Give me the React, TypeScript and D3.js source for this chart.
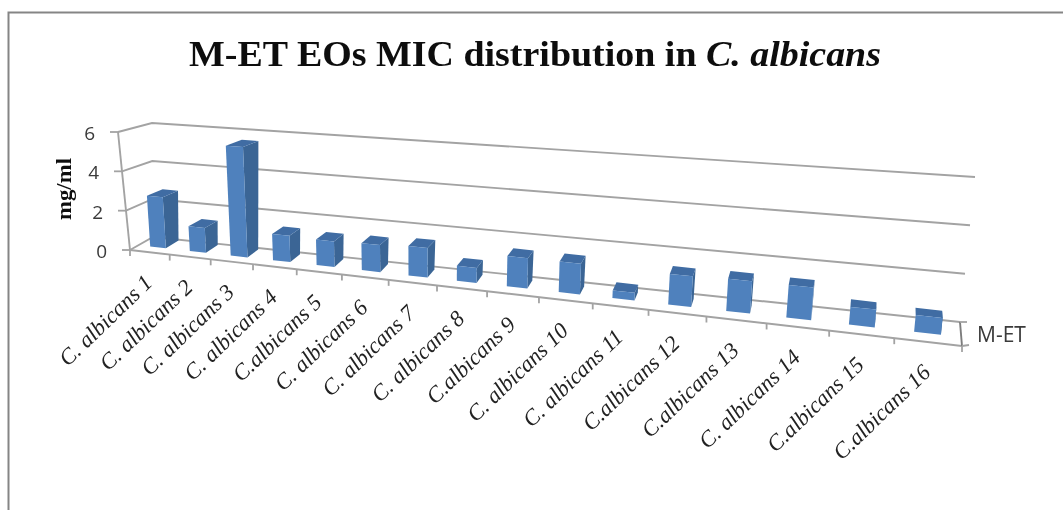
import React from "react";
import * as d3 from "d3";

const categories = ["C. albicans 1","C. albicans 2","C. albicans 3","C. albicans 4","C.albicans 5","C. albicans 6","C. albicans 7","C. albicans 8","C.albicans 9","C. albicans 10","C. albicans 11","C.albicans 12","C.albicans 13","C. albicans 14","C.albicans 15","C.albicans 16"];
const values = [2.6,1.25,5.5,1.3,1.25,1.3,1.4,0.7,1.4,1.4,0.35,1.35,1.4,1.4,0.75,0.7];
const yTicks = [0,2,4,6];
const seriesName = "M-ET";

type P = [number, number];
const lerp = (a: P, b: P, u: number): P => [a[0] + (b[0] - a[0]) * u, a[1] + (b[1] - a[1]) * u];
const FL0: P = [130, 250], FR0: P = [962, 346], BL0: P = [153, 237], BR0: P = [960, 322];
const FL6: P = [118, 132], FR6: P = [977, 200], BL6: P = [152, 123], BR6: P = [975, 177];
const R = 1.33;
const tScale = d3.scaleLinear().domain([0, categories.length]).range([0, 1]);
const vScale = d3.scaleLinear().domain([0, 6]).range([0, 1]);
const depthScale = d3.scaleLinear().domain([0, 1]).range([0.58, 0.3]);
const persp = (t: number) => t / (t + R * (1 - t));
function project(i: number, v: number, d: number): P {
  const s = persp(tScale(i));
  const bottom = lerp(lerp(FL0, FR0, s), lerp(BL0, BR0, s), d);
  const top = lerp(lerp(FL6, FR6, s), lerp(BL6, BR6, s), d);
  return lerp(bottom, top, vScale(v));
}
const poly = (...pts: P[]) => pts.map(p => p.map(n => n.toFixed(1)).join(",")).join(" ");
const GRID = "#a3a3a3";

export default function App() {
  const n = categories.length;
  const order = d3.range(n);
  return (
    <svg width={1063} height={510} style={{ position: "absolute", left: 0, top: 0, background: "#fff" }}>
      <defs>
        <filter id="soft" x="-5%" y="-5%" width="110%" height="110%"><feGaussianBlur stdDeviation="0.75" /></filter>
      </defs>
      <g filter="url(#soft)">
        <path d="M8.5,520 V12.5 H1075" fill="none" stroke="#858585" strokeWidth={2} />
        <text x={535} y={66} textAnchor="middle" textLength={692} lengthAdjust="spacingAndGlyphs" fontFamily="Liberation Serif" fontWeight="bold" fontSize={35} fill="#111">
          M-ET EOs MIC distribution in <tspan fontStyle="italic">C. albicans</tspan>
        </text>
        {yTicks.map(v => {
          const a = project(0, v, 1), b = project(n, v, 1), f = project(0, v, 0);
          return <polyline key={v} points={poly(f, a, b)} fill="none" stroke={GRID} strokeWidth={1.9} />;
        })}
        <line x1={project(0,0,0)[0]} y1={project(0,0,0)[1]} x2={project(0,6,0)[0]} y2={project(0,6,0)[1]} stroke={GRID} strokeWidth={1.9} />
        <line x1={project(0,0,0)[0]} y1={project(0,0,0)[1]} x2={project(n,0,0)[0]} y2={project(n,0,0)[1]} stroke={GRID} strokeWidth={1.9} />
        <polyline points={poly(project(n,0,0), project(n,0,1))} fill="none" stroke="#7d7d7d" strokeWidth={1.9} />
        {yTicks.map(v => {
          const p = project(0, v, 0);
          return (
            <g key={v}>
              <line x1={p[0] - 8} y1={p[1]} x2={p[0]} y2={p[1]} stroke={GRID} strokeWidth={1.8} />
              <text x={p[0] - 23} y={p[1] + 8} textAnchor="end" fontFamily="Open Sans" fontSize={19} fill="#3a3a3a">{v}</text>
            </g>
          );
        })}
        <line x1={project(n,0,0)[0]} y1={project(n,0,0)[1]} x2={project(n,0,0)[0]+7} y2={project(n,0,0)[1]-1} stroke={GRID} strokeWidth={1.8} />
        <line x1={project(n,0,1)[0]} y1={project(n,0,1)[1]} x2={project(n,0,1)[0]+7} y2={project(n,0,1)[1]} stroke={GRID} strokeWidth={1.8} />
        {d3.range(n + 1).map(i => {
          const p = project(i, 0, 0);
          return <line key={i} x1={p[0]} y1={p[1]} x2={p[0]} y2={p[1] + 6} stroke={GRID} strokeWidth={1.8} />;
        })}
        {order.map(i => {
          const v = values[i];
          const l = i + 0.3, r = i + 0.7, d0 = 0.37;
          const dl = d0 + depthScale(persp(tScale(l))), dr = d0 + depthScale(persp(tScale(r)));
          const a = project(l, 0, d0), b = project(r, 0, d0), c = project(r, v, d0), e = project(l, v, d0);
          const b2 = project(r, 0, dr), c2 = project(r, v, dr), e2 = project(l, v, dl);
          return (
            <g key={i}>
              <polygon points={poly(b, b2, c2, c)} fill="#3a6595" />
              <polygon points={poly(e, c, c2, e2)} fill="#3f6ca3" />
              <polygon points={poly(a, b, c, e)} fill="#4f81bd" />
            </g>
          );
        })}
        {categories.map((c, i) => {
          const p = project(i + 0.5, 0, 0);
          return (
            <text key={c} transform={`translate(${p[0] + 4},${p[1] + 32}) rotate(-44)`} textAnchor="end"
              fontFamily="Liberation Serif" fontStyle="italic" fontSize={22.5} fill="#222">{c}</text>
          );
        })}
        <text x={977} y={342} fontFamily="Open Sans" fontSize={21} fill="#3a3a3a">{seriesName}</text>
        <text transform="translate(71,189) rotate(-90)" textAnchor="middle" textLength={62} lengthAdjust="spacingAndGlyphs" fontFamily="Liberation Serif" fontWeight="bold" fontSize={21} fill="#111">mg/ml</text>
      </g>
    </svg>
  );
}
